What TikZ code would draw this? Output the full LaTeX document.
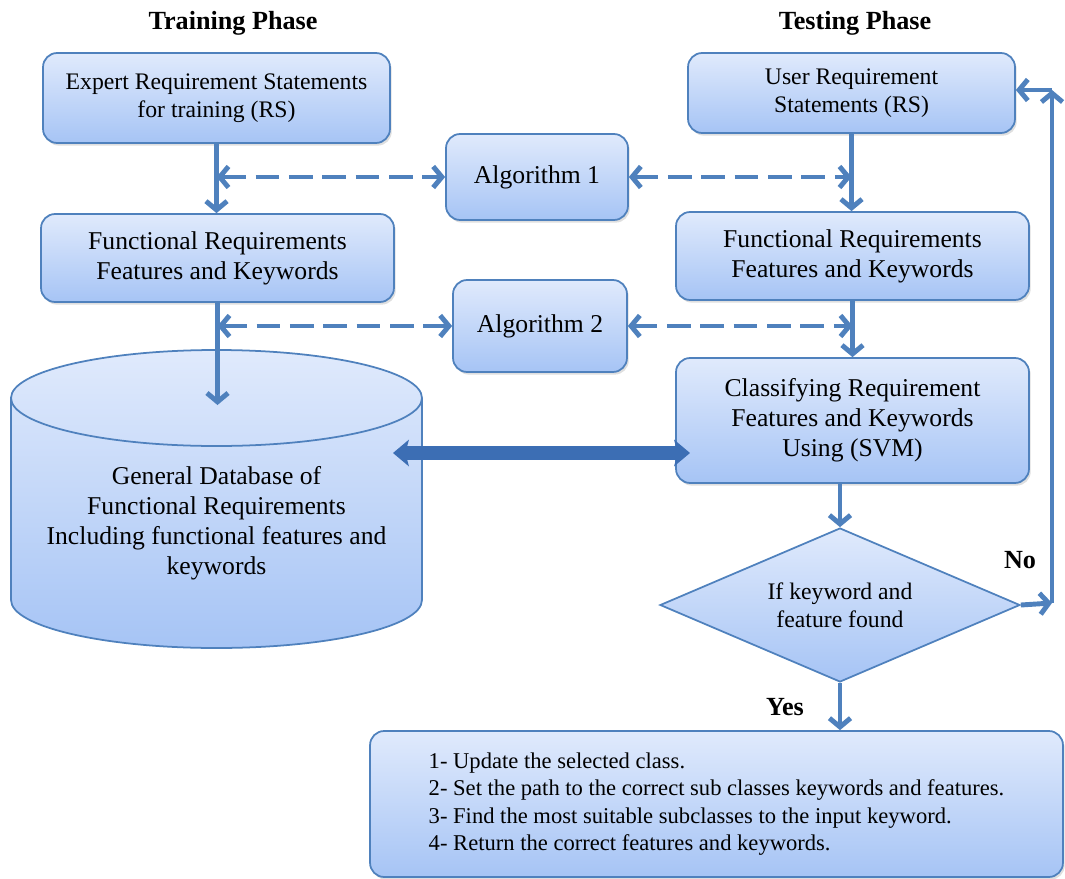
\documentclass[tikz,border=0pt]{standalone}
\usepackage{fontspec}
\setmainfont{Liberation Serif}
\usepackage{tikz}
\usetikzlibrary{arrows.meta,shapes.geometric,shadows}
\definecolor{boxline}{HTML}{4F81BD}
\definecolor{boxtop}{HTML}{E0EAFC}
\definecolor{boxbot}{HTML}{A6C4F5}
\definecolor{thickblue}{HTML}{3C6EB4}

\begin{document}
\begin{tikzpicture}[x=0.02cm, y=-0.02cm,
  every node/.style={font=\fontsize{14.6}{17}\selectfont},
  small/.style={font=\fontsize{13.5}{16}\selectfont},
  title/.style={font=\fontsize{14.9}{17}\selectfont\bfseries},
  box/.style={draw=boxline, line width=1pt, rounded corners=8pt,
    top color=boxtop, bottom color=boxbot, align=center, inner sep=2pt,
    drop shadow={shadow xshift=1pt, shadow yshift=-1.5pt, opacity=.25}},
  dec/.style={diamond, draw=boxline, line width=1pt, top color=boxtop,
    bottom color=boxbot, align=center, inner sep=0pt, aspect=2.34},
  solid/.style={draw=boxline, line width=2.8pt,
    -{Straight Barb[length=5pt, width=12pt]}},
  dashline/.style={draw=boxline, line width=2.8pt, dash pattern=on 13.5pt off 5.5pt,
    {Straight Barb[length=5pt, width=12pt]}-{Straight Barb[length=5pt, width=12pt]}},
  thickline/.style={draw=thickblue, line width=7.5pt,
    {Stealth[length=9pt, width=15pt, inset=2pt]}-{Stealth[length=9pt, width=15pt, inset=2pt]}}
  ]
  \useasboundingbox (0,0) rectangle (1065,879);

  \node[title] (trainhd) at (233,23) {Training Phase};
  \node[title] (testhd) at (855,23) {Testing Phase};

  \node[box, small, minimum width=6.94cm, minimum height=1.8cm] (expert) at (216.5,98)
    {Expert Requirement Statements\\for training (RS)};
  \node[box, minimum width=7.06cm, minimum height=1.76cm] (funcL) at (217.5,258)
    {Functional Requirements\\Features and Keywords};
  \node[box, minimum width=3.64cm, minimum height=1.72cm] (alg1) at (537,177)
    {Algorithm 1};
  \node[box, minimum width=3.48cm, minimum height=1.84cm] (alg2) at (540,326)
    {Algorithm 2};
  \node[box, small, minimum width=6.54cm, minimum height=1.6cm] (user) at (851.5,93)
    {User Requirement\\Statements (RS)};
  \node[box, minimum width=7.06cm, minimum height=1.76cm] (funcR) at (852.5,256)
    {Functional Requirements\\Features and Keywords};
  \node[box, minimum width=7.06cm, minimum height=2.5cm] (classify) at (852.5,420.5)
    {Classifying Requirement\\Features and Keywords\\Using (SVM)};
  \node[dec, small, minimum width=7.2cm, minimum height=3.08cm] (found) at (840,605)
    {If keyword and\\feature found};
  \node[box, minimum width=13.86cm, minimum height=2.92cm, align=left,
    font=\fontsize{12.85}{15.6}\selectfont] (steps) at (716.5,804)
    {1- Update the selected class.\\
     2- Set the path to the correct sub classes keywords and features.\\
     3- Find the most suitable subclasses to the input keyword.\\
     4- Return the correct features and keywords.};

  \shadedraw[draw=boxline, line width=1pt, top color=boxtop, bottom color=boxbot]
    (11,398) -- (11,600) arc[start angle=180, end angle=0, x radius=205.5, y radius=48]
    -- (422,398) arc[start angle=0, end angle=-180, x radius=205.5, y radius=48] -- cycle;
  \draw[boxline, line width=1pt]
    (11,398) arc[start angle=180, end angle=0, x radius=205.5, y radius=48];
  \node[align=center] (db) at (216.5,523)
    {General Database of\\Functional Requirements\\Including functional features and\\keywords};

  \coordinate (dbin) at (217.5,405);
  \coordinate (thickL) at (393,453);
  \coordinate (thickR) at (690,453);
  \coordinate (nocorner) at (1052,603);
  \coordinate (noback) at (1052,90);

  \draw[solid] (expert.south) -- (expert.south |- funcL.north);
  \draw[solid] (user.south) -- (user.south |- funcR.north);
  \draw[solid] (funcL.south) -- (dbin);
  \draw[solid] (funcR.south) -- (funcR.south |- classify.north);
  \draw[solid] (found.north |- classify.south) -- (found.north);
  \draw[solid] (found.south) -- (found.south |- steps.north);
  \draw[solid] (found.east) -- (nocorner);
  \draw[solid] (nocorner) -- (noback);
  \draw[solid] (noback) -- (noback -| user.east);

  \draw[dashline] (expert.south |- alg1.west) -- (alg1.west);
  \draw[dashline] (alg1.east) -- (user.south |- alg1.east);
  \draw[dashline] (funcL.south |- alg2.west) -- (alg2.west);
  \draw[dashline] (alg2.east) -- (funcR.south |- alg2.east);

  \draw[thickline] (thickL) -- (thickR);

  \node[title] (nolbl) at (1020,560) {No};
  \node[title] (yeslbl) at (785,707) {Yes};
\end{tikzpicture}
\end{document}
